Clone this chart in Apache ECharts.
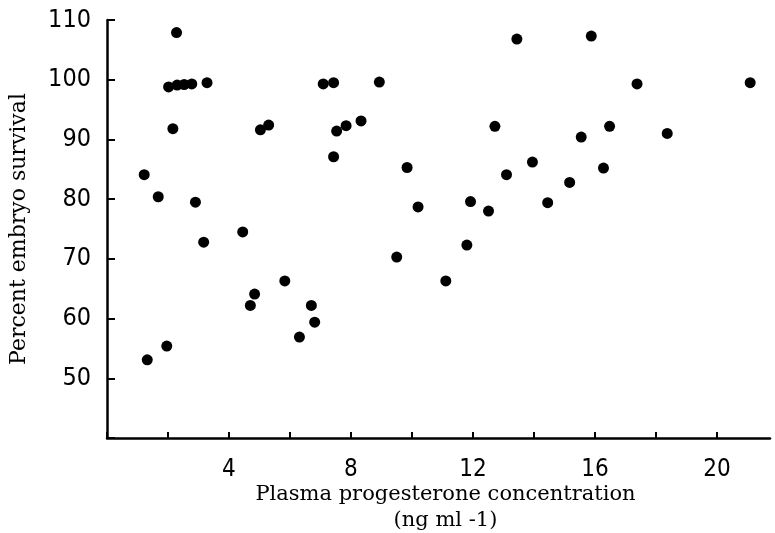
<!DOCTYPE html>
<html>
<head>
<meta charset="utf-8">
<script src="https://cdn.jsdelivr.net/npm/echarts@6/dist/echarts.min.js"></script>
<style>
html,body{margin:0;padding:0;background:#fff;}
#chart{width:775px;height:533px;}
</style>
</head>
<body>
<div id="chart"></div>
<script>
// Plasma progesterone concentration (ng ml -1)
var progesterone = [1.22,1.32,1.68,1.96,2.02,2.16,2.28,2.30,2.53,2.78,2.90,3.17,3.28,4.45,4.70,4.84,5.03,5.30,5.83,6.31,6.70,6.81,7.09,7.43,7.43,7.53,7.84,8.33,8.93,9.50,9.84,10.20,11.11,11.80,11.92,12.51,12.72,13.10,13.44,13.95,14.45,15.17,15.55,15.88,16.28,16.48,17.38,18.37,21.09];
// Percent embryo survival
var survival = [84.1,53.1,80.4,55.4,98.8,91.8,107.9,99.1,99.2,99.3,79.5,72.8,99.5,74.5,62.2,64.1,91.6,92.4,66.3,56.9,62.2,59.4,99.3,99.5,87.1,91.4,92.3,93.1,99.6,70.3,85.3,78.7,66.3,72.3,79.6,78.0,92.2,84.1,106.8,86.2,79.4,82.8,90.4,107.3,85.2,92.2,99.3,91.0,99.5];
var xLabels = [4,8,12,16,20];
var yLabels = [50,60,70,80,90,100,110];

var points = progesterone.map(function(x,i){return [x, survival[i]];});
var tickFont = "'DejaVu Sans Condensed','Liberation Sans Narrow',sans-serif";
var titleFont = "'DejaVu Serif','Liberation Serif',serif";

var chart = echarts.init(document.getElementById('chart'));
chart.setOption({
  animation:false,
  backgroundColor:'#fff',
  grid:{left:107,right:5,top:20,bottom:95,containLabel:false,outerBoundsMode:'none'},
  xAxis:{
    type:'value',min:0,max:21.74,interval:2,
    name:'Plasma progesterone concentration\n(ng ml -1)',
    nameLocation:'middle',nameGap:44,nameMoveOverlap:false,
    nameTextStyle:{fontFamily:titleFont,fontSize:21,color:'#000',lineHeight:26,padding:[0,0,0,14]},
    axisLine:{lineStyle:{color:'#000',width:2.5}},
    axisTick:{inside:true,length:6,lineStyle:{color:'#000',width:2}},
    axisLabel:{color:'#000',fontFamily:tickFont,fontSize:24,margin:20,showMaxLabel:false,
      formatter:function(v){return xLabels.indexOf(v)>=0?String(v):'';}},
    splitLine:{show:false}
  },
  yAxis:{
    type:'value',min:40,max:110,interval:10,
    name:'Percent embryo survival',
    nameLocation:'middle',nameGap:77,nameMoveOverlap:false,
    nameTextStyle:{fontFamily:titleFont,fontSize:22,color:'#000'},
    axisLine:{lineStyle:{color:'#000',width:2.5}},
    axisTick:{inside:true,length:8,lineStyle:{color:'#000',width:2}},
    axisLabel:{color:'#000',fontFamily:tickFont,fontSize:25,margin:16,
      formatter:function(v){return yLabels.indexOf(v)>=0?String(v):'';}},
    splitLine:{show:false}
  },
  series:[{
    type:'scatter',
    data:points,
    symbol:'circle',
    symbolSize:11,
    itemStyle:{color:'#000',opacity:1}
  }]
});
</script>
</body>
</html>
